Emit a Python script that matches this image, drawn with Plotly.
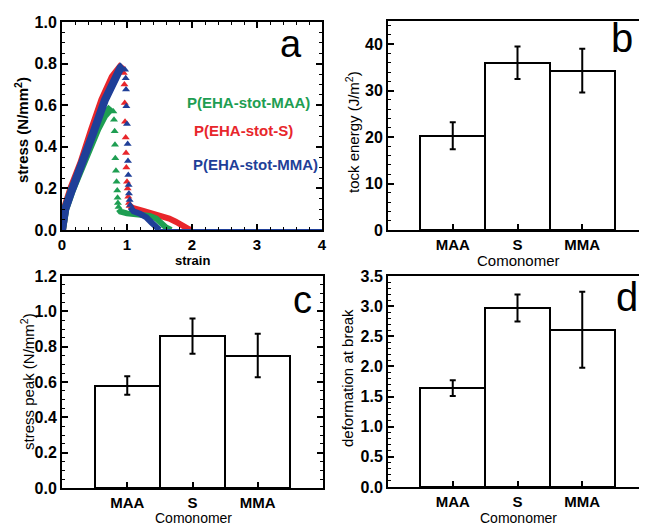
import plotly.graph_objects as go

# page body has an 8 px margin; the figure is sized so that it fills the window exactly
PAGE_MARGIN = 8
W, H = 647 - PAGE_MARGIN, 525 - PAGE_MARGIN

# ---------------- data: panel a (stress-strain) ----------------
green_rise_strain = [0.0, 0.02, 0.05, 0.15, 0.30, 0.45, 0.55, 0.65, 0.72, 0.76]
green_rise_stress = [0.0, 0.05, 0.10, 0.19, 0.31, 0.42, 0.49, 0.55, 0.58, 0.59]
green_drop_strain = [0.79, 0.80, 0.81, 0.815, 0.82, 0.83, 0.84, 0.85, 0.855, 0.86, 0.87]
green_drop_stress = [0.57, 0.53, 0.475, 0.41, 0.345, 0.285, 0.232, 0.19, 0.155, 0.13, 0.11]
green_tail_strain = [0.87, 0.90, 1.00, 1.20, 1.35, 1.45, 1.52, 1.60, 1.68]
green_tail_stress = [0.10, 0.088, 0.08, 0.074, 0.068, 0.055, 0.035, 0.012, 0.0]
green_zero_strain = [1.68, 4.0]
green_zero_stress = [0.0, 0.0]

red_rise_strain = [0.0, 0.02, 0.05, 0.15, 0.30, 0.46, 0.62, 0.78, 0.88, 0.93]
red_rise_stress = [0.0, 0.06, 0.11, 0.205, 0.325, 0.48, 0.625, 0.735, 0.785, 0.795]
red_drop_strain = [0.95, 0.96, 0.965, 0.97, 0.98, 0.985, 0.99, 1.0, 1.01, 1.02, 1.03, 1.04]
red_drop_stress = [0.755, 0.70, 0.61, 0.52, 0.445, 0.37, 0.30, 0.232, 0.20, 0.16, 0.13, 0.115]
red_tail_strain = [1.04, 1.10, 1.25, 1.40, 1.55, 1.65, 1.75, 1.85, 1.95, 2.0]
red_tail_stress = [0.115, 0.105, 0.092, 0.08, 0.068, 0.055, 0.04, 0.018, 0.004, 0.0]
red_zero_strain = [2.0, 4.0]
red_zero_stress = [0.0, 0.0]

blue_rise_strain = [0.0, 0.02, 0.05, 0.15, 0.30, 0.48, 0.66, 0.80, 0.90, 0.94]
blue_rise_stress = [0.0, 0.06, 0.10, 0.19, 0.305, 0.466, 0.625, 0.72, 0.78, 0.79]
blue_drop_strain = [0.97, 0.98, 0.985, 0.99, 1.0, 1.01, 1.015, 1.02, 1.025, 1.03, 1.04, 1.05]
blue_drop_stress = [0.77, 0.73, 0.675, 0.595, 0.51, 0.413, 0.332, 0.264, 0.216, 0.176, 0.144, 0.12]
blue_tail_strain = [1.05, 1.10, 1.20, 1.30, 1.38, 1.44, 1.50]
blue_tail_stress = [0.11, 0.09, 0.078, 0.06, 0.035, 0.012, 0.0]
blue_zero_strain = [1.50, 4.0]
blue_zero_stress = [0.0, 0.0]

series_names = ["P(EHA-stot-MAA)", "P(EHA-stot-S)", "P(EHA-stot-MMA)"]

# ---------------- data: bar panels ----------------
comonomers = ["MAA", "S", "MMA"]
tock_energy = [20.3, 36.0, 34.3]
tock_energy_err = [2.9, 3.5, 4.7]
stress_peak = [0.58, 0.86, 0.75]
stress_peak_err = [0.052, 0.10, 0.123]
deformation = [1.64, 2.97, 2.61]
deformation_err = [0.13, 0.225, 0.63]

GREEN = "#1e9e52"
RED = "#e8262b"
BLUE = "#1f3f98"
FONT = "Liberation Sans"

fig = go.Figure()

def add_series(rs, ry, ds, dy, ts, ty, zs, zy, color, ax):
    xa, ya = ax
    fig.add_trace(go.Scatter(x=rs, y=ry, mode="lines", line=dict(color=color, width=8),
                             xaxis=xa, yaxis=ya, showlegend=False))
    fig.add_trace(go.Scatter(x=ds, y=dy, mode="markers",
                             marker=dict(symbol="triangle-up", size=7, color=color),
                             xaxis=xa, yaxis=ya, showlegend=False))
    fig.add_trace(go.Scatter(x=ts, y=ty, mode="lines", line=dict(color=color, width=6),
                             xaxis=xa, yaxis=ya, showlegend=False))
    fig.add_trace(go.Scatter(x=zs, y=zy, mode="lines", line=dict(color=color, width=2),
                             xaxis=xa, yaxis=ya, showlegend=False))

add_series(red_rise_strain, red_rise_stress, red_drop_strain, red_drop_stress,
           red_tail_strain, red_tail_stress, red_zero_strain, red_zero_stress, RED, ("x", "y"))
add_series(green_rise_strain, green_rise_stress, green_drop_strain, green_drop_stress,
           green_tail_strain, green_tail_stress, green_zero_strain, green_zero_stress, GREEN, ("x", "y"))
add_series(blue_rise_strain, blue_rise_stress, blue_drop_strain, blue_drop_stress,
           blue_tail_strain, blue_tail_stress, blue_zero_strain, blue_zero_stress, BLUE, ("x", "y"))

def add_bars(vals, errs, xa, ya):
    fig.add_trace(go.Bar(x=comonomers, y=vals, width=1,
                         marker=dict(color="white", line=dict(color="black", width=2)),
                         error_y=dict(type="data", array=errs, visible=True, color="black",
                                      thickness=2, width=3),
                         xaxis=xa, yaxis=ya, showlegend=False))

add_bars(tock_energy, tock_energy_err, "x2", "y2")
add_bars(stress_peak, stress_peak_err, "x3", "y3")
add_bars(deformation, deformation_err, "x4", "y4")

def px_x(p):
    return (p - PAGE_MARGIN) / W

def px_y(p):
    return 1 - (p - PAGE_MARGIN) / H

tickfont = dict(family=FONT, size=16, color="black", weight="bold")
xtickfont = dict(family=FONT, size=15, color="black", weight="bold")

common_axis = dict(showline=True, linecolor="black", linewidth=2, ticks="inside",
                   tickcolor="black", tickwidth=1.5, ticklen=6, showgrid=False,
                   zeroline=False, automargin=False)

dom_a_x = [px_x(62), px_x(322)]
dom_a_y = [px_y(230), px_y(22)]
dom_b_x = [px_x(388), 1.0]
dom_b_y = [px_y(230), px_y(21)]
dom_c_x = [px_x(62), px_x(323)]
dom_c_y = [px_y(488), px_y(276)]
dom_d_x = [px_x(388), 1.0]
dom_d_y = [px_y(487), px_y(276)]

minor_style = dict(ticks="inside", ticklen=3, tickcolor="black", tickwidth=1)

fig.update_layout(
    width=W, height=H, margin=dict(l=0, r=0, t=0, b=0, autoexpand=False),
    paper_bgcolor="white", plot_bgcolor="white", bargap=0,
    xaxis=dict(**common_axis, tickfont=xtickfont, domain=dom_a_x, anchor="y", range=[0, 4],
               dtick=1, mirror="ticks", minor=dict(**minor_style, dtick=0.2)),
    yaxis=dict(**common_axis, tickfont=tickfont, domain=dom_a_y, anchor="x", range=[0, 1],
               dtick=0.2, tickformat=".1f", mirror="ticks",
               minor=dict(**minor_style, dtick=0.05)),
    xaxis2=dict(**common_axis, tickfont=xtickfont, domain=dom_b_x, anchor="y2",
                range=[-1, 3], mirror=True, type="category"),
    yaxis2=dict(**common_axis, tickfont=tickfont, domain=dom_b_y, anchor="x2", range=[0, 45],
                dtick=10, mirror="ticks", minor=dict(**minor_style, dtick=2)),
    xaxis3=dict(**common_axis, tickfont=xtickfont, domain=dom_c_x, anchor="y3",
                range=[-1, 3], mirror=True, type="category"),
    yaxis3=dict(**common_axis, tickfont=tickfont, domain=dom_c_y, anchor="x3",
                range=[0, 1.2], dtick=0.2, tickformat=".1f", mirror="ticks",
                minor=dict(**minor_style, dtick=0.05)),
    xaxis4=dict(**common_axis, tickfont=xtickfont, domain=dom_d_x, anchor="y4",
                range=[-1, 3], mirror=True, type="category"),
    yaxis4=dict(**common_axis, tickfont=tickfont, domain=dom_d_y, anchor="x4",
                range=[0, 3.5], dtick=0.5, tickformat=".1f", mirror="ticks",
                minor=dict(**minor_style, dtick=0.1)),
)

def ann(text, x, y, size=14, bold=False, angle=0, color="black", xanchor="center"):
    fig.add_annotation(text=text, x=px_x(x), y=px_y(y), xref="paper", yref="paper",
                       showarrow=False, textangle=angle, xanchor=xanchor, yanchor="middle",
                       font=dict(family=FONT, size=size, color=color,
                                 weight="bold" if bold else "normal"))

# axis titles
ann("stress (N/mm<sup>2</sup>)", 22, 130, size=15, bold=True, angle=-90)
ann("strain", 192, 260, size=13, bold=True)
ann("tock energy (J/m<sup>2</sup>)", 352, 132, size=15, angle=-90)
ann("Comonomer", 518, 261, size=15)
ann("stress peak (N/mm<sup>2</sup>)", 27, 382, size=15, angle=-90)
ann("Comonomer", 193, 517.5, size=14)
ann("deformation at break", 347, 378, size=15, angle=-90)
ann("Comonomer", 518, 517.5, size=14)

# panel letters
ann("a", 291, 44, size=38)
ann("b", 622, 38, size=40)
ann("c", 302, 300, size=38)
ann("d", 627, 297, size=40)

# series labels
ann(series_names[0], 185, 102, size=15, bold=True, color=GREEN, xanchor="left")
ann(series_names[1], 192, 131, size=15, bold=True, color=RED, xanchor="left")
ann(series_names[2], 191, 164, size=15, bold=True, color=BLUE, xanchor="left")

fig.write_html("out.html")
